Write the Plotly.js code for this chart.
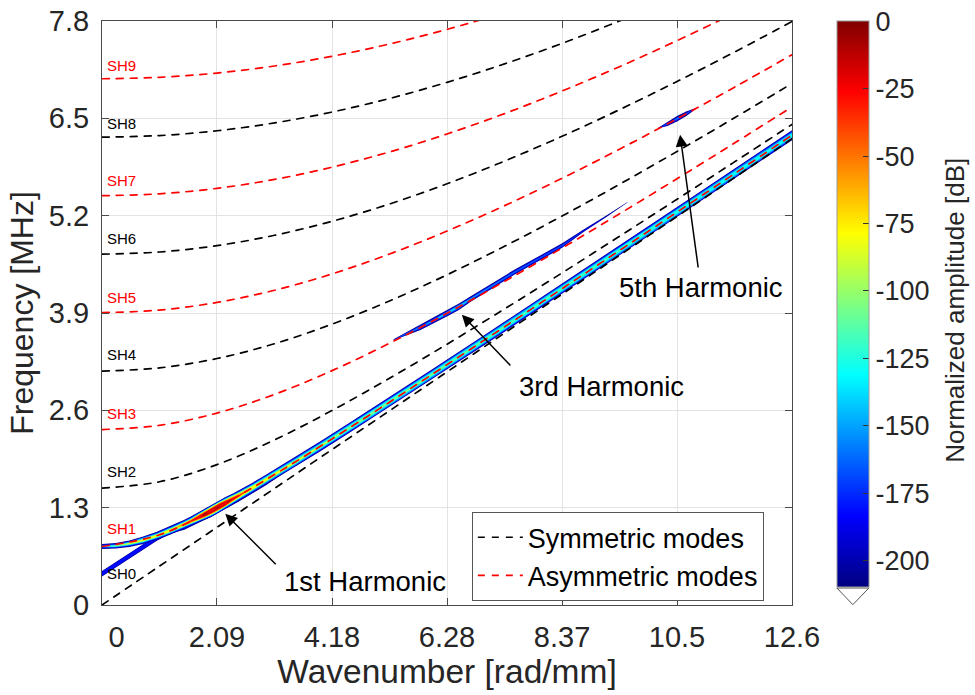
<!DOCTYPE html>
<html><head><meta charset="utf-8">
<script src="https://cdn.plot.ly/plotly-3.0.1.min.js"></script>
<style>
html,body{margin:0;padding:0;background:#fff;}
#chart{width:975px;height:695px;}
.scatterlayer .js-line{stroke-linecap:round;}
</style></head><body><div id="chart"></div>
<script>
// ---------------- data ----------------
const modeK = [0, 1.047, 2.094, 3.142, 4.189, 5.236, 6.283, 7.330, 8.378, 9.425, 10.472, 11.519, 12.566];
const SH0 = [0, 0.519, 1.038, 1.557, 2.076, 2.594, 3.113, 3.632, 4.151, 4.670, 5.189, 5.708, 6.227];
const SH1 = [0.781, 0.938, 1.299, 1.742, 2.218, 2.709, 3.210, 3.715, 4.224, 4.735, 5.247, 5.761, 6.275];
const SH2 = [1.562, 1.646, 1.875, 2.205, 2.598, 3.028, 3.483, 3.954, 4.435, 4.925, 5.419, 5.918, 6.419];
const SH3 = [2.343, 2.400, 2.563, 2.813, 3.130, 3.496, 3.896, 4.322, 4.767, 5.225, 5.693, 6.170, 6.653];
const SH4 = [3.124, 3.167, 3.292, 3.490, 3.751, 4.061, 4.410, 4.791, 5.195, 5.619, 6.057, 6.507, 6.966];
const SH5 = [3.905, 3.939, 4.041, 4.204, 4.422, 4.688, 4.994, 5.333, 5.699, 6.088, 6.494, 6.916, 7.350];
const SH6 = [4.686, 4.715, 4.800, 4.938, 5.125, 5.356, 5.626, 5.929, 6.260, 6.616, 6.992, 7.385, 7.793];
const SH7 = [5.467, 5.492, 5.565, 5.684, 5.848, 6.051, 6.291, 6.563, 6.865, 7.190, 7.538, 7.904, 8.286];
const SH8 = [6.248, 6.270, 6.334, 6.439, 6.584, 6.765, 6.981, 7.227, 7.501, 7.801, 8.122, 8.463, 8.821];
const SH9 = [7.029, 7.048, 7.105, 7.199, 7.329, 7.493, 7.688, 7.912, 8.163, 8.439, 8.737, 9.055, 9.390];
const symNames = ['SH0', 'SH2', 'SH4', 'SH6', 'SH8'];
const asymNames = ['SH1', 'SH3', 'SH5', 'SH7', 'SH9'];

// 1st harmonic ridge: wavenumber, frequency, and extent (px, vertical) of each dB contour along it
const band1K = [0, 0.25, 0.5, 0.75, 1.0, 1.25, 1.5, 1.625, 1.75, 1.875, 2.0, 2.125, 2.25, 2.375, 2.5, 2.75, 3.0, 3.5, 4.0, 4.5, 5, 6, 7, 8, 9, 10, 11, 12, 12.566];
const band1F = [0.781, 0.791, 0.819, 0.865, 0.925, 0.997, 1.078, 1.122, 1.167, 1.214, 1.262, 1.311, 1.361, 1.412, 1.465, 1.571, 1.679, 1.902, 2.130, 2.363, 2.598, 3.074, 3.555, 4.040, 4.527, 5.016, 5.506, 5.997, 6.275];
const band1Levels = [-205, -182, -155, -130, -105, -80, -55, -30, -12];
const band1W205 = [5, 5.5, 6.5, 7.5, 8, 8.5, 9, 9.5, 10.5, 11.5, 12.5, 12.5, 12, 11, 10.5, 10, 10, 10, 10, 10, 10, 10, 10, 10, 10, 10, 10, 10, 10];
const band1W182 = [3.5, 4, 5, 6, 6.5, 7, 7.5, 8, 9.2, 10.2, 11.3, 11.3, 10.8, 9.8, 9, 8.5, 8.5, 8.5, 8.5, 8.5, 8.5, 8.5, 8.5, 8.5, 8.5, 8.5, 8.5, 8.5, 8.5];
const band1W155 = [2, 2.8, 3.8, 4.8, 5.2, 5.6, 6, 6.5, 8, 9, 10.2, 10.2, 9.5, 8.4, 7.5, 7, 7, 7, 7, 7, 7, 7, 7, 7, 7, 7, 7, 6.8, 6.5];
const band1W130 = [0.8, 1.8, 2.8, 3.6, 4, 4.4, 4.8, 5.3, 7, 8, 9.2, 9.2, 8.5, 7.4, 6.2, 5.6, 5.5, 5.3, 5.2, 5.2, 5, 5, 5, 5, 4.8, 4.6, 4.5, 4.2, 4];
const band1W105 = [0, 0.8, 1.8, 2.6, 3, 3.3, 3.7, 4.2, 6.2, 7.2, 8.3, 8.3, 7.6, 6.6, 5, 4.2, 3.8, 3.3, 3, 2.6, 2.3, 2, 1.8, 1.5, 1, 0.6, 0, 0, 0];
const band1W80 = [0, 0, 0.8, 1.6, 2, 2.3, 2.8, 3.4, 5.5, 6.5, 7.5, 7.5, 6.8, 5.6, 4, 3, 2.4, 1.6, 1, 0, 0, 0, 0, 0, 0, 0, 0, 0, 0];
const band1W55 = [0, 0, 0, 0, 0, 0, 1.5, 3, 4.5, 5.8, 6.5, 6.5, 5.8, 4.2, 2.4, 0, 0, 0, 0, 0, 0, 0, 0, 0, 0, 0, 0, 0, 0];
const band1W30 = [0, 0, 0, 0, 0, 0, 0, 1.5, 3.2, 4.6, 5.5, 5.5, 4.6, 2.6, 0.8, 0, 0, 0, 0, 0, 0, 0, 0, 0, 0, 0, 0, 0, 0];
const band1W12 = [0, 0, 0, 0, 0, 0, 0, 0, 1, 2.8, 4.2, 4.2, 2.8, 0.8, 0, 0, 0, 0, 0, 0, 0, 0, 0, 0, 0, 0, 0, 0, 0];

// weak branch below the 1st harmonic ridge
const branchK = [0, 0.5, 1.0, 1.25, 1.5, 2.0, 2.5, 3.0, 3.3];
const branchF = [0.418, 0.657, 0.896, 0.99, 1.035, 1.215, 1.415, 1.632, 1.762];
const branchLevels = [-205, -182];
const branchW205 = [5.5, 5.5, 5.5, 5, 4.5, 4.5, 4.5, 4, 1];
const branchW182 = [4, 4, 4, 3.5, 3, 3, 3, 2.5, 0];

// 3rd harmonic ridge
const band3K = [5.31, 5.8, 6.0, 6.28, 6.5, 6.7, 7.5, 8.38, 8.77, 9.2, 9.57];
const band3F = [3.543, 3.708, 3.785, 3.896, 3.983, 4.08, 4.44, 4.80, 5.00, 5.20, 5.38];
const band3Levels = [-205, -182, -160, -140];
const band3W205 = [1, 5, 5.5, 6.5, 6.5, 5.5, 5, 4.5, 2.5, 1.5, 0.6];
const band3W182 = [0, 3.2, 3.6, 4.5, 4.5, 3.5, 3, 2.5, 1, 0.4, 0];
const band3W160 = [0, 1.6, 2.2, 3.2, 3.2, 2, 1.2, 0.6, 0, 0, 0];
const band3W140 = [0, 0, 0.8, 2, 2, 0.6, 0, 0, 0, 0, 0];

// 5th harmonic ridge
const band5K = [10.13, 10.3, 10.48, 10.65, 10.83];
const band5F = [6.371, 6.426, 6.497, 6.565, 6.637];
const band5Levels = [-205, -182, -160];
const band5W205 = [0.5, 4.5, 5.5, 4.5, 0.5];
const band5W182 = [0, 2.5, 3.5, 2.5, 0];
const band5W160 = [0, 0.8, 1.5, 0.8, 0];

const xTickVals = [0, 2.094, 4.189, 6.283, 8.378, 10.472, 12.566];
const xTickText = ['\u2002\u20020', '2.09', '4.18', '6.28', '8.37', '10.5', '12.6'];
const yTickVals = [0, 1.3, 2.6, 3.9, 5.2, 6.5, 7.8];
const yTickText = ['0', '1.3', '2.6', '3.9', '5.2', '6.5', '7.8'];
const cbTickVals = [-200, -175, -150, -125, -100, -75, -50, -25, 0];
const cbTickText = ['-200', '-175', '-150', '-125', '-100', '-75', '-50', '-25', '0'];
const CMIN = -210, CMAX = 0;

// ---------------- styling ----------------
const FONT = '"Liberation Sans", Arial, Helvetica, sans-serif';
const TXT = '#262626';
const W = 690, H = 584;              // plot area in px
const PX_PER_MHZ = H / 7.8;
const jetStops = [[0, [0, 0, 128]], [0.125, [0, 0, 255]], [0.375, [0, 255, 255]], [0.625, [255, 255, 0]], [0.875, [255, 0, 0]], [1, [128, 0, 0]]];
const jetScale = jetStops.map(s => [s[0], 'rgb(' + s[1].join(',') + ')']);
function jet(db) {
  let t = (db - CMIN) / (CMAX - CMIN);
  t = Math.max(0, Math.min(1, t));
  for (let i = 1; i < jetStops.length; i++) {
    if (t <= jetStops[i][0]) {
      const a = jetStops[i - 1], b = jetStops[i];
      const u = (t - a[0]) / (b[0] - a[0]);
      const c = a[1].map((v, j) => Math.round(v + (b[1][j] - v) * u));
      return 'rgb(' + c.join(',') + ')';
    }
  }
  return 'rgb(128,0,0)';
}

const traces = [];
// filled contour region of one dB level around a ridge
function addRidge(K, F, levels, widths) {
  levels.forEach((db, li) => {
    const w = widths[li];
    const idx = [];
    K.forEach((k, i) => {
      if (w[i] > 0 || (i > 0 && w[i - 1] > 0) || (i < K.length - 1 && w[i + 1] > 0)) idx.push(i);
    });
    if (!idx.length) return;
    const xs = [], ys = [];
    idx.forEach(i => { xs.push(K[i]); ys.push(F[i] + w[i] / 2 / PX_PER_MHZ); });
    idx.slice().reverse().forEach(i => { xs.push(K[i]); ys.push(F[i] - w[i] / 2 / PX_PER_MHZ); });
    traces.push({x: xs, y: ys, type: 'scatter', mode: 'lines', fill: 'toself', fillcolor: jet(db),
      line: {width: 0, color: jet(db)}, showlegend: false, hoverinfo: 'skip'});
  });
}
addRidge(branchK, branchF, branchLevels, [branchW205, branchW182]);
addRidge(band1K, band1F, band1Levels, [band1W205, band1W182, band1W155, band1W130, band1W105, band1W80, band1W55, band1W30, band1W12]);
addRidge(band3K, band3F, band3Levels, [band3W205, band3W182, band3W160, band3W140]);
addRidge(band5K, band5F, band5Levels, [band5W205, band5W182, band5W160]);

// colorbar carrier
traces.push({x: [null], y: [null], type: 'scatter', mode: 'markers', showlegend: false, hoverinfo: 'skip',
  marker: {color: [CMIN], cmin: CMIN, cmax: CMAX, colorscale: jetScale, showscale: true, size: 1,
    colorbar: {x: 1.065, xanchor: 'left', xpad: 0, y: 0.9993, yanchor: 'top', ypad: 0, len: 0.970, lenmode: 'fraction',
      thickness: 32, thicknessmode: 'pixels', outlinewidth: 1, outlinecolor: '#9a9a9a',
      tickmode: 'array', tickvals: cbTickVals, ticktext: cbTickText, ticks: 'inside', ticklen: 6, tickcolor: '#333', tickwidth: 1,
      tickfont: {family: FONT, size: 27, color: TXT}, ticklabelpad: 6, title: {text: ''}}}});

const modes = {SH0, SH1, SH2, SH3, SH4, SH5, SH6, SH7, SH8, SH9};
const DASH = '7px,7px';
symNames.forEach((n, i) => traces.push({x: modeK, y: modes[n], type: 'scatter', mode: 'lines', name: 'Symmetric modes',
  legendgroup: 'sym', showlegend: i === 0, line: {color: '#000', width: 1.7, dash: DASH, shape: 'spline'}, hoverinfo: 'skip'}));
asymNames.forEach((n, i) => traces.push({x: modeK, y: modes[n], type: 'scatter', mode: 'lines', name: 'Asymmetric modes',
  legendgroup: 'asym', showlegend: i === 0, line: {color: '#ff0000', width: 1.7, dash: DASH, shape: 'spline'}, hoverinfo: 'skip'}));

const labelY = {SH0: 0.427, SH1: 1.019, SH2: 1.784, SH3: 2.564, SH4: 3.343, SH5: 4.109, SH6: 4.889, SH7: 5.667, SH8: 6.428, SH9: 7.203};
const annotations = [];
Object.keys(labelY).forEach(n => {
  const odd = asymNames.includes(n);
  annotations.push({x: 0, y: labelY[n], xref: 'x', yref: 'y', text: n, showarrow: false, xanchor: 'left', yanchor: 'middle',
    xshift: 3, font: {family: FONT, size: 15, color: odd ? '#ff0000' : '#000'}});
});
const arrows = [
  {text: '1st Harmonic', head: [2.245, 1.219], tail: [3.191, 0.525], pos: [4.79, 0.311]},
  {text: '3rd Harmonic', head: [6.554, 3.877], tail: [7.464, 3.179], pos: [9.10, 2.92]},
  {text: '5th Harmonic', head: [10.528, 6.282], tail: [10.861, 4.488], pos: [10.916, 4.234]}
];
arrows.forEach(a => {
  annotations.push({x: a.head[0], y: a.head[1], ax: a.tail[0], ay: a.tail[1], xref: 'x', yref: 'y', axref: 'x', ayref: 'y',
    text: '', showarrow: true, arrowhead: 2, arrowsize: 1.6, arrowwidth: 1.5, arrowcolor: '#000', standoff: 0});
  annotations.push({x: a.pos[0], y: a.pos[1], xref: 'x', yref: 'y', text: a.text, showarrow: false,
    font: {family: FONT, size: 27.5, color: '#000'}});
});
// colorbar title
annotations.push({xref: 'paper', yref: 'paper', x: (955 - 102) / W, y: (605.3 - 310) / H, text: 'Normalized amplitude [dB]',
  textangle: -90, showarrow: false, xanchor: 'center', yanchor: 'middle', font: {family: FONT, size: 26, color: TXT}});

// colorbar bottom triangle (paper coords)
const tri = {x0: 1.065, x1: 1.065 + 32 / W, yb: 1 - (588.3 - 21.3) / H, tip: 1 - (605 - 21.3) / H};
const shapes = [{type: 'path', xref: 'paper', yref: 'paper',
  path: `M${tri.x0},${tri.yb} L${(tri.x0 + tri.x1) / 2},${tri.tip} L${tri.x1},${tri.yb} Z`,
  fillcolor: '#fff', line: {color: '#555', width: 1}}];

const axisCommon = {showgrid: true, gridcolor: '#e3e3e3', gridwidth: 1, showline: true, linecolor: '#4a4a4a', linewidth: 1,
  mirror: 'ticks', ticks: 'inside', ticklen: 7, tickcolor: '#4a4a4a', zeroline: false,
  tickfont: {family: FONT, size: 29, color: TXT}};

const layout = {
  width: 975, height: 695, margin: {l: 102, r: 183, t: 21, b: 90, pad: 0, autoexpand: false},
  paper_bgcolor: '#fff', plot_bgcolor: '#fff', font: {family: FONT, color: TXT},
  xaxis: Object.assign({}, axisCommon, {range: [0, 12.566], tickvals: xTickVals, ticktext: xTickText, ticklabelstandoff: 6,
    title: {text: 'Wavenumber [rad/mm]', font: {family: FONT, size: 33.5, color: TXT}, standoff: 6}}),
  yaxis: Object.assign({}, axisCommon, {range: [0, 7.8], tickvals: yTickVals, ticktext: yTickText, ticklabelstandoff: 6,
    title: {text: 'Frequency [MHz]', font: {family: FONT, size: 32, color: TXT}, standoff: 5}}),
  legend: {x: 0.536, y: 0.0827, xanchor: 'left', yanchor: 'middle', bordercolor: '#555', borderwidth: 1, bgcolor: '#fff',
    font: {family: FONT, size: 27, color: '#000'}, itemwidth: 45, tracegroupgap: 0, traceorder: 'normal'},
  annotations, shapes, showlegend: true
};
Plotly.newPlot('chart', traces, layout, {displayModeBar: false, staticPlot: true});
</script></body></html>
